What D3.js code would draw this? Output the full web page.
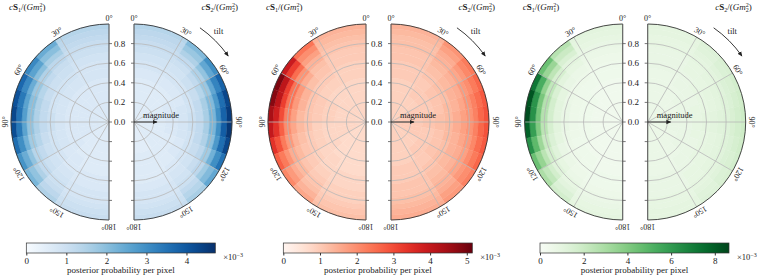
<!DOCTYPE html>
<meta charset="utf-8">
<script src="https://d3js.org/d3.v7.min.js"></script>
<style>
  body { margin: 0; background: #fff; }
  text { font-family: "Liberation Serif", "DejaVu Serif", serif; fill: #1a1a1a; }
</style>
<body>
<div id="chart"></div>
</body>
<script>
// bin edges: magnitude (equal area) and tilt in degrees (equal in cos tilt)
const magEdges = [0, 0.32, 0.45, 0.55, 0.63, 0.71, 0.77, 0.84, 0.89, 0.95, 1.0];
const tiltEdges = [0, 33.6, 48.2, 60, 70.5, 80.4, 90, 99.6, 109.5, 120, 131.8, 146.4, 180];

// posterior probability per pixel (x 1e-3), rows = tilt bins, cols = magnitude bins
const blueS1 = [
  [0.7,0.7,0.8,0.8,0.9,1.0,1.1,1.2,1.3,1.4],
  [0.7,0.7,0.8,0.9,1.0,1.1,1.3,1.6,2.0,2.4],
  [0.7,0.7,0.8,0.9,1.0,1.2,1.5,2.0,2.6,3.1],
  [0.7,0.7,0.8,0.9,1.1,1.4,1.8,2.4,3.1,3.7],
  [0.7,0.7,0.8,0.9,1.2,1.5,2.0,2.6,3.4,4.1],
  [0.7,0.7,0.8,1.0,1.2,1.5,2.0,2.7,3.5,4.3],
  [0.7,0.7,0.8,1.0,1.2,1.5,1.9,2.6,3.4,4.2],
  [0.7,0.7,0.8,0.9,1.1,1.4,1.7,2.3,3.0,3.6],
  [0.7,0.7,0.8,0.9,1.0,1.2,1.4,1.9,2.4,2.9],
  [0.6,0.7,0.7,0.8,0.9,1.0,1.2,1.5,1.9,2.2],
  [0.6,0.6,0.7,0.7,0.8,0.9,1.0,1.1,1.3,1.5],
  [0.6,0.6,0.6,0.7,0.7,0.8,0.8,0.9,1.0,1.1]];
const blueS2 = [
  [0.6,0.6,0.7,0.8,0.9,1.0,1.1,1.2,1.3,1.4],
  [0.6,0.6,0.7,0.8,0.9,1.0,1.2,1.5,1.8,2.1],
  [0.6,0.6,0.7,0.8,1.0,1.2,1.5,1.9,2.5,3.0],
  [0.6,0.7,0.7,0.9,1.1,1.4,1.8,2.5,3.2,3.8],
  [0.6,0.7,0.8,0.9,1.2,1.6,2.1,2.8,3.6,4.3],
  [0.6,0.7,0.8,1.0,1.2,1.6,2.2,3.0,3.8,4.5],
  [0.6,0.7,0.8,1.0,1.2,1.6,2.2,3.0,3.9,4.6],
  [0.6,0.7,0.8,0.9,1.2,1.5,2.0,2.8,3.6,4.3],
  [0.6,0.6,0.7,0.9,1.1,1.3,1.7,2.3,3.0,3.5],
  [0.6,0.6,0.7,0.8,0.9,1.1,1.3,1.7,2.1,2.5],
  [0.6,0.6,0.6,0.7,0.8,0.9,1.0,1.2,1.4,1.6],
  [0.5,0.6,0.6,0.6,0.7,0.8,0.8,0.9,1.0,1.1]];
const redS1 = [
  [0.8,0.8,0.9,0.9,1.0,1.0,1.1,1.2,1.3,1.4],
  [0.8,0.8,0.9,1.0,1.1,1.2,1.4,1.7,2.0,2.4],
  [0.8,0.8,0.9,1.0,1.2,1.5,1.9,2.5,3.2,3.9],
  [0.8,0.9,1.0,1.1,1.4,1.8,2.4,3.2,4.1,4.9],
  [0.8,0.9,1.0,1.1,1.4,1.8,2.4,3.2,4.1,4.8],
  [0.8,0.9,1.0,1.1,1.3,1.7,2.2,3.0,3.8,4.4],
  [0.8,0.8,0.9,1.1,1.3,1.6,2.0,2.7,3.4,4.0],
  [0.8,0.8,0.9,1.0,1.2,1.4,1.8,2.3,2.9,3.4],
  [0.8,0.8,0.9,1.0,1.1,1.3,1.5,1.9,2.3,2.7],
  [0.7,0.8,0.8,0.9,1.0,1.1,1.3,1.5,1.8,2.1],
  [0.7,0.7,0.8,0.8,0.9,1.0,1.1,1.2,1.4,1.6],
  [0.7,0.7,0.7,0.8,0.8,0.9,0.9,1.0,1.1,1.2]];
const redS2 = [
  [0.9,0.9,1.0,1.0,1.1,1.1,1.2,1.2,1.3,1.4],
  [0.9,1.0,1.0,1.1,1.2,1.3,1.4,1.5,1.7,1.9],
  [0.9,1.0,1.1,1.2,1.3,1.4,1.6,1.8,2.1,2.3],
  [1.0,1.0,1.1,1.2,1.4,1.5,1.8,2.0,2.3,2.6],
  [1.0,1.0,1.1,1.3,1.4,1.6,1.9,2.2,2.5,2.8],
  [1.0,1.1,1.2,1.3,1.5,1.7,1.9,2.2,2.6,2.9],
  [1.0,1.1,1.2,1.3,1.5,1.7,1.9,2.2,2.6,2.9],
  [1.0,1.0,1.1,1.3,1.4,1.6,1.8,2.1,2.5,2.8],
  [1.0,1.0,1.1,1.2,1.4,1.5,1.7,2.0,2.3,2.6],
  [0.9,1.0,1.1,1.2,1.3,1.4,1.6,1.8,2.0,2.2],
  [0.9,1.0,1.0,1.1,1.2,1.3,1.4,1.5,1.7,1.8],
  [0.9,0.9,1.0,1.0,1.1,1.1,1.2,1.3,1.4,1.5]];
const greenS1 = [
  [0.4,0.4,0.5,0.5,0.6,0.7,0.8,0.9,1.0,1.1],
  [0.4,0.4,0.5,0.6,0.7,0.9,1.1,1.5,2.0,2.6],
  [0.4,0.5,0.5,0.6,0.8,1.1,1.6,2.4,3.4,4.5],
  [0.4,0.5,0.6,0.7,1.0,1.5,2.3,3.6,5.3,7.2],
  [0.4,0.5,0.6,0.8,1.1,1.7,2.7,4.2,6.2,8.2],
  [0.4,0.5,0.6,0.8,1.1,1.7,2.7,4.3,6.3,8.4],
  [0.4,0.5,0.6,0.8,1.1,1.6,2.5,4.0,5.8,7.8],
  [0.4,0.5,0.6,0.7,1.0,1.4,2.1,3.3,4.8,6.3],
  [0.4,0.5,0.5,0.6,0.8,1.2,1.7,2.5,3.5,4.5],
  [0.4,0.4,0.5,0.6,0.7,0.9,1.2,1.7,2.3,2.9],
  [0.4,0.4,0.5,0.5,0.6,0.7,0.9,1.1,1.4,1.7],
  [0.4,0.4,0.4,0.5,0.5,0.6,0.7,0.8,0.9,1.0]];
const greenS2 = [
  [0.7,0.7,0.7,0.8,0.8,0.8,0.9,0.9,1.0,1.0],
  [0.7,0.7,0.8,0.8,0.9,0.9,1.0,1.1,1.2,1.3],
  [0.7,0.8,0.8,0.9,0.9,1.0,1.1,1.2,1.4,1.5],
  [0.7,0.8,0.8,0.9,1.0,1.1,1.2,1.4,1.5,1.7],
  [0.8,0.8,0.9,0.9,1.0,1.1,1.3,1.4,1.6,1.8],
  [0.8,0.8,0.9,1.0,1.1,1.2,1.3,1.5,1.7,1.9],
  [0.8,0.8,0.9,1.0,1.1,1.2,1.3,1.5,1.7,1.9],
  [0.8,0.8,0.9,0.9,1.0,1.1,1.3,1.4,1.6,1.8],
  [0.7,0.8,0.8,0.9,1.0,1.1,1.2,1.4,1.5,1.7],
  [0.7,0.8,0.8,0.9,0.9,1.0,1.1,1.2,1.4,1.5],
  [0.7,0.7,0.8,0.8,0.9,0.9,1.0,1.1,1.2,1.3],
  [0.7,0.7,0.7,0.8,0.8,0.8,0.9,0.9,1.0,1.0]];

const cbarMax = [4.72, 5.15, 8.65];
const cbarTicks = [[0,1,2,3,4],[0,1,2,3,4,5],[0,2,4,6,8]];
const radialTicks = [0, 0.2, 0.4, 0.6, 0.8];
const gridAngles = [30, 60, 90, 120, 150];
const angleLabels = [0, 30, 60, 90, 120, 150, 180];

const panels = [
  {s1: blueS1, s2: blueS2, interp: d3.interpolateBlues},
  {s1: redS1, s2: redS2, interp: d3.interpolateReds},
  {s1: greenS1, s2: greenS2, interp: d3.interpolateGreens}
];

const width = 759, height = 276;
const cy = 122, R = 98, gap = 25;
const axisX = [109, 366, 622.7];
const rad = Math.PI / 180;

const svg = d3.select("#chart").append("svg")
  .attr("width", width).attr("height", height);

const defs = svg.append("defs");
defs.append("marker")
  .attr("id", "arrow")
  .attr("viewBox", "0 0 10 10")
  .attr("refX", 8).attr("refY", 5)
  .attr("markerWidth", 6).attr("markerHeight", 6)
  .attr("orient", "auto")
  .append("path").attr("d", "M0,1 L9,5 L0,9 Z").attr("fill", "#222");

const r = d3.scaleLinear().domain([0, 1]).range([0, R]);
const arc = d3.arc();

// title with tspans: c S_i / (G m_i^2)
function title(g, x, anchor, i) {
  const t = g.append("text").attr("x", x).attr("y", 10)
    .attr("text-anchor", anchor).style("font-size", "9px");
  t.append("tspan").style("font-style", "italic").text("c");
  t.append("tspan").style("font-weight", "bold").text("S");
  t.append("tspan").attr("dy", 2).style("font-size", "6px").text(i);
  t.append("tspan").attr("dy", -2).text("/(");
  t.append("tspan").style("font-style", "italic").text("Gm");
  t.append("tspan").attr("dy", -3.5).style("font-size", "6px").text("2");
  t.append("tspan").attr("dy", 5.5).attr("dx", -3).style("font-size", "6px").text(i);
  t.append("tspan").attr("dy", -2).text(")");
}

panels.forEach((p, pi) => {
  const color = d3.scaleSequential(p.interp).domain([0, cbarMax[pi]]);
  const lx = axisX[pi], rx = axisX[pi] + gap;

  [{cx: lx, dir: -1, grid: p.s1}, {cx: rx, dir: 1, grid: p.s2}].forEach(d => {
    const g = svg.append("g").attr("transform", `translate(${d.cx},${cy})`);

    // pixels
    const cells = [];
    d.grid.forEach((row, ti) => row.forEach((v, mi) => cells.push({ti, mi, v})));
    g.selectAll("path.cell").data(cells).join("path")
      .attr("class", "cell")
      .attr("d", c => arc({
        innerRadius: r(magEdges[c.mi]),
        outerRadius: r(magEdges[c.mi + 1]),
        startAngle: d.dir * tiltEdges[c.ti] * rad,
        endAngle: d.dir * tiltEdges[c.ti + 1] * rad
      }))
      .attr("fill", c => color(c.v))
      .attr("stroke", c => color(c.v))
      .attr("stroke-width", 0.4);

    // circular grid
    radialTicks.slice(1).forEach(t => {
      const pth = d3.path();
      pth.moveTo(0, -r(t));
      pth.arc(0, 0, r(t), -Math.PI / 2, Math.PI / 2, d.dir < 0);
      g.append("path").attr("d", pth.toString())
        .attr("fill", "none").attr("stroke", "#b8b8b8").attr("stroke-width", 0.8);
    });
    // angular grid
    gridAngles.forEach(a => {
      g.append("line")
        .attr("x1", 0).attr("y1", 0)
        .attr("x2", d.dir * R * Math.sin(a * rad))
        .attr("y2", -R * Math.cos(a * rad))
        .attr("stroke", "#b8b8b8").attr("stroke-width", 0.8);
    });

    // outer boundary
    const outer = d3.path();
    outer.moveTo(0, -R);
    outer.arc(0, 0, R, -Math.PI / 2, Math.PI / 2, d.dir < 0);
    g.append("path").attr("d", outer.toString())
      .attr("fill", "none").attr("stroke", "#333").attr("stroke-width", 0.9);
    g.append("line").attr("x1", 0).attr("x2", 0).attr("y1", -R).attr("y2", R)
      .attr("stroke", "#555").attr("stroke-width", 1.1);

    // magnitude ticks on the axis, pointing into the gap
    const tickVals = radialTicks.concat(radialTicks.slice(1).map(t => -t));
    tickVals.forEach(t => {
      g.append("line").attr("x1", 0).attr("x2", -d.dir * 3)
        .attr("y1", -r(t)).attr("y2", -r(t))
        .attr("stroke", "#555").attr("stroke-width", 0.8);
    });
    if (d.dir < 0) {
      radialTicks.forEach(t => {
        g.append("text").attr("x", 5).attr("y", -r(t))
          .attr("dominant-baseline", "central")
          .style("font-size", "9px").text(d3.format(".1f")(t));
      });
    }

    // tilt angle labels
    angleLabels.forEach(a => {
      const lr = R + 6;
      const x = d.dir * lr * Math.sin(a * rad), y = -lr * Math.cos(a * rad);
      g.append("text")
        .attr("transform", `translate(${x},${y}) rotate(${d.dir * a})`)
        .attr("text-anchor", "middle").attr("dominant-baseline", "central")
        .style("font-size", "8px").text(a + "\u00b0");
    });

    if (d.dir > 0) {
      // tilt arrow
      const ar = 115;
      const tp = d3.path();
      tp.moveTo(ar * Math.sin(35 * rad), -ar * Math.cos(35 * rad));
      tp.arc(0, 0, ar, (35 - 90) * rad, (55 - 90) * rad, false);
      g.append("path").attr("d", tp.toString())
        .attr("fill", "none").attr("stroke", "#222").attr("stroke-width", 0.9)
        .attr("marker-end", "url(#arrow)");
      g.append("text")
        .attr("x", 124 * Math.sin(43 * rad)).attr("y", -124 * Math.cos(43 * rad))
        .attr("text-anchor", "middle").attr("dominant-baseline", "central")
        .style("font-size", "8.5px").text("tilt");
      // magnitude arrow
      g.append("line").attr("x1", 0).attr("y1", 0).attr("x2", 23).attr("y2", 0)
        .attr("stroke", "#222").attr("stroke-width", 0.9)
        .attr("marker-end", "url(#arrow)");
      g.append("text").attr("x", 27).attr("y", -4)
        .attr("text-anchor", "middle")
        .style("font-size", "8.5px").text("magnitude");
    }
  });

  // titles
  title(svg, lx - 100, "start", "1");
  title(svg, rx + 104, "end", "2");

  // colorbar
  const cbX = lx - 82.7, cbW = 189, cbY = 243, cbH = 10;
  const gid = "grad" + pi;
  const grad = defs.append("linearGradient").attr("id", gid);
  d3.range(0, 1.0001, 0.05).forEach(t => {
    grad.append("stop").attr("offset", t).attr("stop-color", p.interp(t));
  });
  svg.append("rect").attr("x", cbX).attr("y", cbY).attr("width", cbW).attr("height", cbH)
    .attr("fill", `url(#${gid})`).attr("stroke", "#333").attr("stroke-width", 0.7);
  const cx = d3.scaleLinear().domain([0, cbarMax[pi]]).range([cbX, cbX + cbW]);
  const ax = svg.append("g").attr("transform", `translate(0,${cbY + cbH})`)
    .call(d3.axisBottom(cx).tickValues(cbarTicks[pi]).tickFormat(d3.format("d"))
      .tickSize(2.5).tickPadding(2));
  ax.select(".domain").remove();
  ax.selectAll("text").style("font-size", "9px")
    .style("font-family", '"Liberation Serif", serif').attr("fill", "#1a1a1a");
  ax.selectAll("line").attr("stroke", "#333");
  const off = svg.append("text").attr("x", cbX + cbW + 8).attr("y", 260)
    .style("font-size", "8.5px").text("\u00d710");
  off.append("tspan").attr("dy", -3.5).style("font-size", "6px").text("\u22123");
  svg.append("text").attr("x", cbX + cbW / 2).attr("y", 273)
    .attr("text-anchor", "middle").style("font-size", "9px")
    .text("posterior probability per pixel");
});
</script>
